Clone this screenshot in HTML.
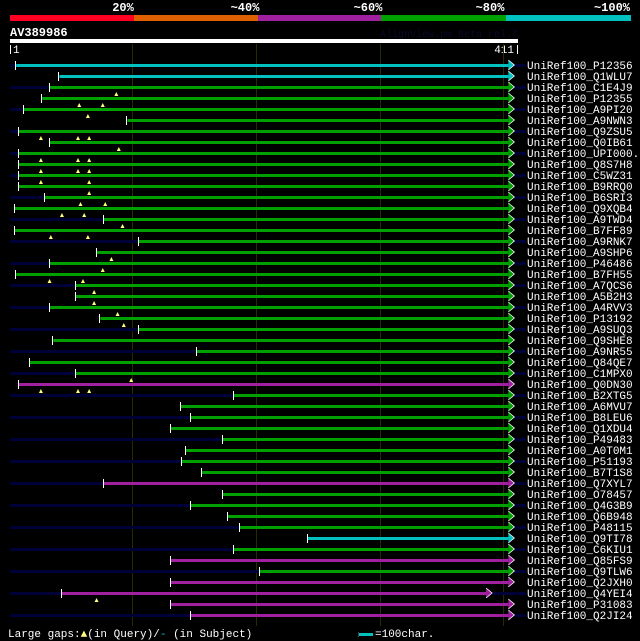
<!DOCTYPE html>
<html><head><meta charset="utf-8"><style>
html,body{margin:0;padding:0;background:#000;}
svg{display:block;font-family:"Liberation Mono","DejaVu Sans Mono",monospace;}
</style></head><body>
<svg id="chart" width="640" height="641" viewBox="0 0 640 641">
<g>
 <rect x="10" y="15" width="124" height="6" fill="#ff0022"/>
 <rect x="134" y="15" width="124" height="6" fill="#e06000"/>
 <rect x="258" y="15" width="123" height="6" fill="#a020a0"/>
 <rect x="381" y="15" width="125" height="6" fill="#00a000"/>
 <rect x="506" y="15" width="125" height="6" fill="#00c0c0"/>
 <g fill="#fff" font-size="12" font-weight="bold" text-anchor="middle">
  <text x="123" y="11">20%</text>
  <text x="245" y="11">~40%</text>
  <text x="368" y="11">~60%</text>
  <text x="490" y="11">~80%</text>
  <text x="612" y="11">~100%</text>
 </g>
</g>
<text x="10" y="36" fill="#fff" font-size="12" font-weight="bold">AV389986</text>
<text x="518" y="37" fill="#0a0a2a" font-size="10" text-anchor="end">AlignView.pm Beta rel.7</text>
<rect x="10" y="39" width="508" height="4" fill="#fff"/>
<rect x="10" y="45" width="1" height="9" fill="#fff"/>
<text x="13" y="53" fill="#fff" font-size="11">1</text>
<text x="514" y="53" fill="#fff" font-size="11" text-anchor="end">411</text>
<rect x="517" y="45" width="1" height="9" fill="#fff"/>
<g id="grid"></g>
<g id="rows"></g>
<g>
 <text x="8" y="637" fill="#fff" font-size="11">Large gaps:<tspan fill="#ffff80">▲</tspan>(in Query)/<tspan fill="#00c0c0">-</tspan> (in Subject)</text>
 <rect x="358" y="632" width="1" height="5" fill="#444"/>
 <rect x="359" y="633" width="14" height="3" fill="#00c0c0"/>
 <text x="375" y="637" fill="#fff" font-size="11">=100char.</text>
</g>
</svg>
<script>
const names=["P12356","Q1WLU7","C1E4J9","P12355","A9PI20","A9NWN3","Q9ZSU5","Q0IB61","UPI000..","Q8S7H8","C5WZ31","B9RRQ0","B6SRI3","Q9XQB4","A9TWD4","B7FF89","A9RNK7","A9SHP6","P46486","B7FH55","A7QCS6","A5B2H3","A4RVV3","P13192","A9SUQ3","Q9SHE8","A9NR55","Q84QE7","C1MPX0","Q0DN30","B2XTG5","A6MVU7","B8LEU6","Q1XDU4","P49483","A0T0M1","P51193","B7T1S8","Q7XYL7","O78457","Q4G3B9","Q6B948","P48115","Q9TI78","C6KIU1","Q85FS9","Q9TLW6","Q2JXH0","Q4YEI4","P31083","Q2JI24"];
const starts=[6,41,33,27,12,96,8,33,8,8,8,8,29,5,77,5,105,71,33,6,54,54,33,74,105,36,152,17,54,8,182,139,147,131,173,143,140,156,77,173,147,177,187,242,182,131,203,131,43,131,147];
const ends=[404,404,404,404,404,404,404,404,404,404,404,404,404,404,404,404,404,404,404,404,404,404,404,404,404,404,404,404,404,404,404,404,404,404,404,404,404,404,404,404,404,404,404,404,404,404,404,404,386,404,404];
const identity=["c","c","g","g","g","g","g","g","g","g","g","g","g","g","g","g","g","g","g","g","g","g","g","g","g","g","g","g","g","p","g","g","g","g","g","g","g","g","p","g","g","g","g","c","g","p","g","p","p","p","p"];
const gapMarks=[[],[],[87],[57,76],[64],[],[26,56,65],[89],[26,56,65],[26,56,65],[26,65],[65],[58,78],[43,61],[92],[34,64],[],[83],[76],[33,60],[69],[69],[88],[93],[],[],[],[],[99],[26,56,65],[],[],[],[],[],[],[],[],[],[],[],[],[],[],[],[],[],[],[71],[],[]];
const colors={c:"#00c0c0",g:"#00a000",p:"#a020a0"};
const gridRes=[100,200,300,400];
const NS="http://www.w3.org/2000/svg";
const xs=r=>10+(r-1)*507/410;
const rowY=i=>65+i*11;
function mk(tag,attrs,parent){const e=document.createElementNS(NS,tag);for(const k in attrs)e.setAttribute(k,attrs[k]);parent.appendChild(e);return e;}
const grid=document.getElementById('grid'),rows=document.getElementById('rows');
gridRes.forEach(g=>{
 const l=mk('rect',{x:Math.round(xs(g)),y:44,width:1,height:582,fill:"#2a2a00"},grid);
 
 
});
names.forEach((n,i)=>{
 const y=rowY(i);
 const g=mk('g',{},rows);
 
 
 const x0=xs(starts[i]),x1=xs(ends[i]),col=colors[identity[i]];
 if(i%2===0){
  const nv=mk('rect',{x:10,y:y-1,width:x0-10,height:3,fill:"#000038"},g);
  
  
  const nr=mk('rect',{x:x1+6,y:y-1,width:526-x1-6,height:3,fill:"#000038"},g);
  
  
 }
 const b=mk('rect',{x:x0,y:y-1,width:x1-x0,height:3,fill:col},g);
 
 
 const t=mk('rect',{x:Math.round(x0)-1,y:y-4,width:1,height:9,fill:"#fff"},g);
 
 
 const a=mk('polygon',{points:`${x1},${y-5} ${x1+6},${y} ${x1},${y+5}`,fill:col},g);
 
 
 const aw=mk('polyline',{points:`${x1},${y-5} ${x1+6},${y} ${x1},${y+5}`,fill:"none",stroke:"#fff","stroke-width":0.8},g);
 
 
 gapMarks[i].forEach(m=>{
  const mx=xs(m);
  const p=mk('polygon',{points:`${mx-2},${y+9} ${mx},${y+5} ${mx+2},${y+9}`,fill:"#ffff80"},g);
  
  
 });
 const tx=mk('text',{x:527,y:y+4,fill:"#fff","font-size":11},g);
 tx.textContent="UniRef100_"+n;
 
 
});
</script>
</body></html>
